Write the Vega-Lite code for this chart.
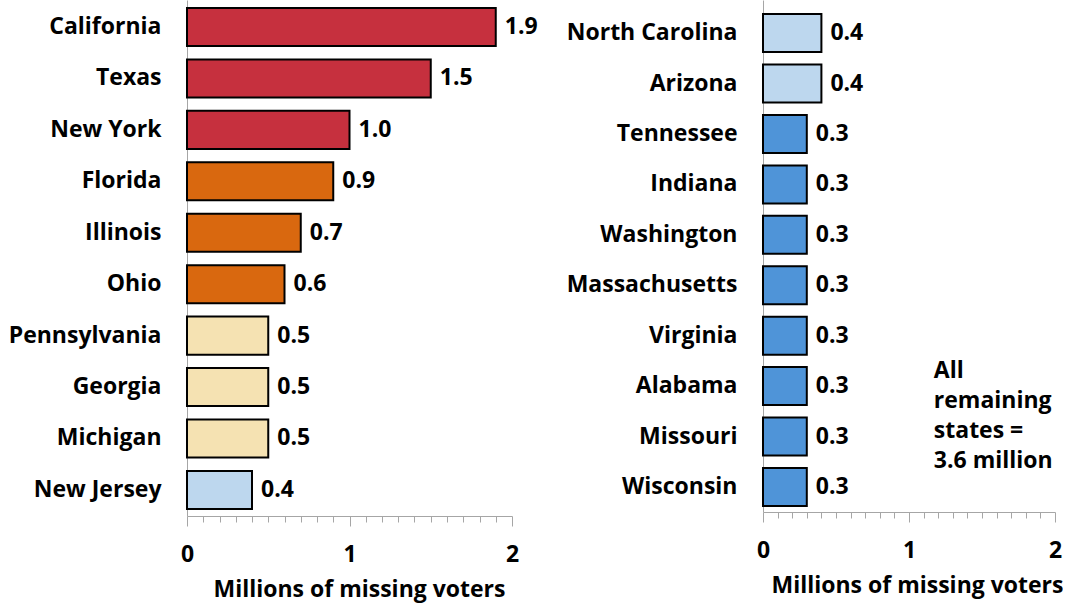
{
  "$schema": "https://vega.github.io/schema/vega-lite/v6.json",
  "autosize": {"type": "pad"},
  "padding": {"left": 8, "top": 0, "right": 0, "bottom": 8},
  "background": "white",
  "bounds": "flush",
  "spacing": 251,
  "config": {
    "view": {"stroke": null},
    "font": "Open Sans",
    "axis": {"labelFont": "Open Sans", "titleFont": "Open Sans", "labelColor": "black", "titleColor": "black", "labelFontWeight": 700, "titleFontWeight": 700, "labelFontSize": 23, "titleFontSize": 23, "domainColor": "#A6A6A6", "tickColor": "#A6A6A6", "grid": false}
  },
  "datasets": {
    "left": [
      {"state": "California", "value": 1.9, "tier": "A"},
      {"state": "Texas", "value": 1.5, "tier": "A"},
      {"state": "New York", "value": 1.0, "tier": "A"},
      {"state": "Florida", "value": 0.9, "tier": "B"},
      {"state": "Illinois", "value": 0.7, "tier": "B"},
      {"state": "Ohio", "value": 0.6, "tier": "B"},
      {"state": "Pennsylvania", "value": 0.5, "tier": "C"},
      {"state": "Georgia", "value": 0.5, "tier": "C"},
      {"state": "Michigan", "value": 0.5, "tier": "C"},
      {"state": "New Jersey", "value": 0.4, "tier": "D"}
    ],
    "right": [
      {"state": "North Carolina", "value": 0.4, "tier": "D"},
      {"state": "Arizona", "value": 0.4, "tier": "D"},
      {"state": "Tennessee", "value": 0.3, "tier": "E"},
      {"state": "Indiana", "value": 0.3, "tier": "E"},
      {"state": "Washington", "value": 0.3, "tier": "E"},
      {"state": "Massachusetts", "value": 0.3, "tier": "E"},
      {"state": "Virginia", "value": 0.3, "tier": "E"},
      {"state": "Alabama", "value": 0.3, "tier": "E"},
      {"state": "Missouri", "value": 0.3, "tier": "E"},
      {"state": "Wisconsin", "value": 0.3, "tier": "E"}
    ],
    "note": [
      {"note": "All\nremaining\nstates =\n3.6 million"}
    ]
  },
  "hconcat": [
    {
      "width": 325,
      "height": 516,
      "data": {"name": "left"},
      "layer": [
        {"mark": {"type": "bar", "stroke": "black", "strokeWidth": 2},
          "encoding": {
            "y": {"field": "state", "type": "nominal", "sort": null,
              "scale": {"paddingInner": 0.26, "paddingOuter": 0.146, "align": 0.53},
              "axis": {"title": null, "ticks": false, "labelPadding": 26}},
            "x": {"field": "value", "type": "quantitative", "scale": {"domain": [0, 2], "nice": false},
              "axis": {"title": "Millions of missing voters", "titleX": 172, "titlePadding": 12, "format": "~g",
                "values": [0, 0.1, 0.2, 0.3, 0.4, 0.5, 0.6, 0.7, 0.8, 0.9, 1, 1.1, 1.2, 1.3, 1.4, 1.5, 1.6, 1.7, 1.8, 1.9, 2],
                "labelExpr": "(datum.value == 0 || datum.value == 1 || datum.value == 2) ? datum.label : ''",
                "labelOverlap": false, "labelFlush": false, "labelPadding": 17,
                "tickSize": {"condition": {"test": "datum.value == 0 || datum.value == 1 || datum.value == 2", "value": 10}, "value": 6}}},
            "color": {"field": "tier", "type": "nominal", "legend": null,
              "scale": {"domain": ["A", "B", "C", "D", "E"], "range": ["#C6303E", "#D9680F", "#F5E2B2", "#BDD7EE", "#4F94D8"]}}}},
        {"mark": {"type": "text", "align": "left", "baseline": "middle", "dx": 9, "fontSize": 23, "fontWeight": 700, "font": "Open Sans", "color": "black"},
          "encoding": {
            "y": {"field": "state", "type": "nominal", "sort": null,
              "scale": {"paddingInner": 0.26, "paddingOuter": 0.146, "align": 0.53},
              "axis": {"title": null, "ticks": false, "labelPadding": 26}},
            "x": {"field": "value", "type": "quantitative", "scale": {"domain": [0, 2], "nice": false},
              "axis": {"title": "Millions of missing voters", "titleX": 172, "titlePadding": 12, "format": "~g",
                "values": [0, 0.1, 0.2, 0.3, 0.4, 0.5, 0.6, 0.7, 0.8, 0.9, 1, 1.1, 1.2, 1.3, 1.4, 1.5, 1.6, 1.7, 1.8, 1.9, 2],
                "labelExpr": "(datum.value == 0 || datum.value == 1 || datum.value == 2) ? datum.label : ''",
                "labelOverlap": false, "labelFlush": false, "labelPadding": 17,
                "tickSize": {"condition": {"test": "datum.value == 0 || datum.value == 1 || datum.value == 2", "value": 10}, "value": 6}}},
            "text": {"field": "value", "type": "quantitative", "format": ".1f"}}}
      ]
    },
    {
      "width": 292,
      "height": 512,
      "layer": [
        {"data": {"name": "right"},
          "mark": {"type": "bar", "stroke": "black", "strokeWidth": 2},
          "encoding": {
            "y": {"field": "state", "type": "nominal", "sort": null,
              "scale": {"paddingInner": 0.247, "paddingOuter": 0.2, "align": 0.7},
              "axis": {"title": null, "ticks": false, "labelPadding": 26}},
            "x": {"field": "value", "type": "quantitative", "scale": {"domain": [0, 2], "nice": false},
              "axis": {"title": "Millions of missing voters", "titleX": 154, "titlePadding": 12, "format": "~g",
                "values": [0, 0.1, 0.2, 0.3, 0.4, 0.5, 0.6, 0.7, 0.8, 0.9, 1, 1.1, 1.2, 1.3, 1.4, 1.5, 1.6, 1.7, 1.8, 1.9, 2],
                "labelExpr": "(datum.value == 0 || datum.value == 1 || datum.value == 2) ? datum.label : ''",
                "labelOverlap": false, "labelFlush": false, "labelPadding": 17,
                "tickSize": {"condition": {"test": "datum.value == 0 || datum.value == 1 || datum.value == 2", "value": 10}, "value": 6}}},
            "color": {"field": "tier", "type": "nominal", "legend": null,
              "scale": {"domain": ["A", "B", "C", "D", "E"], "range": ["#C6303E", "#D9680F", "#F5E2B2", "#BDD7EE", "#4F94D8"]}}}},
        {"data": {"name": "right"},
          "mark": {"type": "text", "align": "left", "baseline": "middle", "dx": 9, "fontSize": 23, "fontWeight": 700, "font": "Open Sans", "color": "black"},
          "encoding": {
            "y": {"field": "state", "type": "nominal", "sort": null,
              "scale": {"paddingInner": 0.247, "paddingOuter": 0.2, "align": 0.7},
              "axis": {"title": null, "ticks": false, "labelPadding": 26}},
            "x": {"field": "value", "type": "quantitative", "scale": {"domain": [0, 2], "nice": false},
              "axis": {"title": "Millions of missing voters", "titleX": 154, "titlePadding": 12, "format": "~g",
                "values": [0, 0.1, 0.2, 0.3, 0.4, 0.5, 0.6, 0.7, 0.8, 0.9, 1, 1.1, 1.2, 1.3, 1.4, 1.5, 1.6, 1.7, 1.8, 1.9, 2],
                "labelExpr": "(datum.value == 0 || datum.value == 1 || datum.value == 2) ? datum.label : ''",
                "labelOverlap": false, "labelFlush": false, "labelPadding": 17,
                "tickSize": {"condition": {"test": "datum.value == 0 || datum.value == 1 || datum.value == 2", "value": 10}, "value": 6}}},
            "text": {"field": "value", "type": "quantitative", "format": ".1f"}}},
        {"data": {"name": "note"},
          "mark": {"type": "text", "align": "left", "baseline": "middle", "dy": -15, "lineHeight": 30, "lineBreak": "\n", "fontSize": 23, "fontWeight": 700, "font": "Open Sans", "color": "black"},
          "encoding": {
            "x": {"datum": 1.17, "type": "quantitative", "scale": {"domain": [0, 2], "nice": false},
              "axis": {"title": "Millions of missing voters", "titleX": 154, "titlePadding": 12, "format": "~g",
                "values": [0, 0.1, 0.2, 0.3, 0.4, 0.5, 0.6, 0.7, 0.8, 0.9, 1, 1.1, 1.2, 1.3, 1.4, 1.5, 1.6, 1.7, 1.8, 1.9, 2],
                "labelExpr": "(datum.value == 0 || datum.value == 1 || datum.value == 2) ? datum.label : ''",
                "labelOverlap": false, "labelFlush": false, "labelPadding": 17,
                "tickSize": {"condition": {"test": "datum.value == 0 || datum.value == 1 || datum.value == 2", "value": 10}, "value": 6}}},
            "y": {"datum": "Alabama", "type": "nominal",
              "scale": {"paddingInner": 0.247, "paddingOuter": 0.2, "align": 0.7},
              "axis": {"title": null, "ticks": false, "labelPadding": 26}},
            "text": {"field": "note", "type": "nominal"}}}
      ]
    }
  ]
}
